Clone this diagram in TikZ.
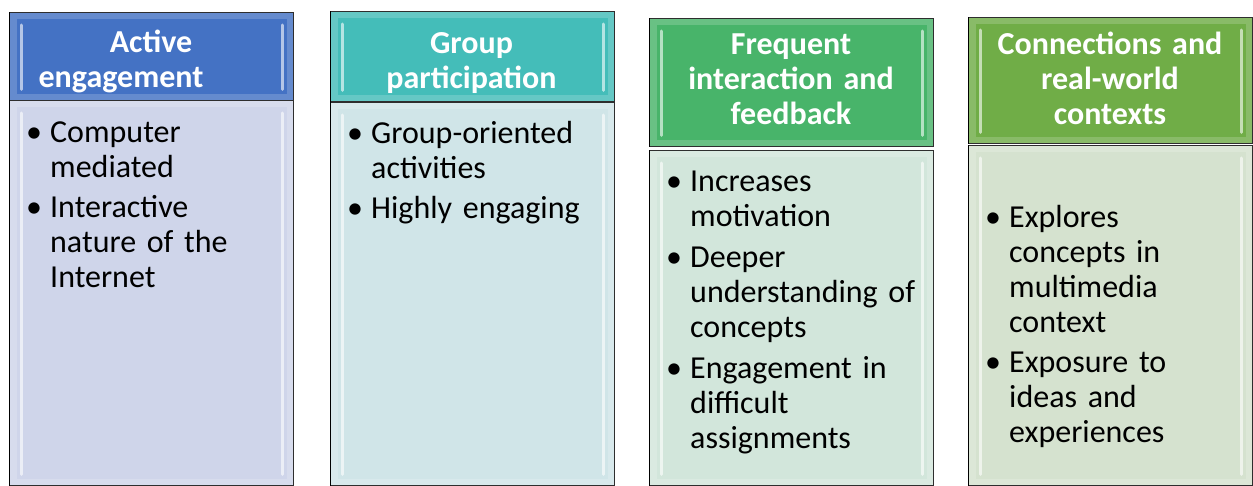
\documentclass[tikz,border=0pt]{standalone}
\usepackage{fontspec}
\setmainfont[WordSpace=0.8]{Carlito}
\usetikzlibrary{positioning}

\definecolor{hdrblue}{HTML}{4472C4}
\definecolor{hdrteal}{HTML}{44BDB9}
\definecolor{hdrgreen}{HTML}{48B46A}
\definecolor{hdrlime}{HTML}{70AD47}
\definecolor{bodyblue}{HTML}{CFD5EA}
\definecolor{bodyteal}{HTML}{D0E5E8}
\definecolor{bodygreen}{HTML}{D2E6DB}
\definecolor{bodylime}{HTML}{D5E2CF}

\newlength{\bgap}
\tikzset{
  panel/.style = {draw = black, line width = 1.4pt, inner sep = 0pt,
    minimum width = 284pt, anchor = north west},
  headtext/.style = {text = white, inner sep = 0pt, anchor = base,
    text width = 270pt, align = center,
    font = \fontsize{32}{35}\selectfont\bfseries},
  bodytext/.style = {inner sep = 0pt, anchor = base west, text width = 262pt,
    align = left, font = \fontsize{32}{35}\selectfont\setlength{\bgap}{#1}},
  bodytext/.default = 5pt,
  glint/.style = {white, opacity = 0.6, line width = 3pt, line cap = round},
  rim/.style = {white, opacity = 0.18, line width = 7pt}
}

% bullet item, the gap only goes in after the first one
\newcommand{\bitem}[1]{\noindent\hangindent=24pt\hangafter=1%
  \makebox[24pt][l]{\textbullet}#1\par\parskip=\bgap}
\newcommand{\bevel}[1]{%
  \draw[rim] ([shift={(4pt,-4pt)}]#1.north west) rectangle ([shift={(-4pt,4pt)}]#1.south east);
  \draw[glint] ([shift={(12pt,-13pt)}]#1.north west) -- ([shift={(12pt,12pt)}]#1.south west);
  \draw[glint] ([shift={(-12pt,-13pt)}]#1.north east) -- ([shift={(-12pt,12pt)}]#1.south east);}

\begin{document}
\begin{tikzpicture}[x = 1pt, y = -1pt]
  \useasboundingbox (0, 0) rectangle (1253, 486);
  \clip (0, 0) rectangle (1253, 486);

  % bodies
  \foreach \x/\y/\col/\name in {9/100/bodyblue/b1, 330/102/bodyteal/b2,
      649/150/bodygreen/b3, 968/145/bodylime/b4}{
    \node[panel, fill = \col, minimum height = 485pt - \y pt] (\name) at (\x, \y) {};
    \bevel{\name}}

  % headers
  \foreach \x/\y/\h/\col/\name in {9/12/88/hdrblue/h1, 330/11/90/hdrteal/h2,
      649/18/128/hdrgreen/h3, 968/17/126/hdrlime/h4}{
    \node[panel, fill = \col, minimum height = \h pt] (\name) at (\x, \y) {};
    \bevel{\name}}

  \node[headtext] (t1) at (151, 53) {Active\\engagement\hspace*{60pt}};
  \node[headtext] (t2) at (471.5, 54) {Group\hspace*{40pt}\\participation};
  \node[headtext] (t3) at (791, 55) {Frequent\\interaction and\\feedback};
  \node[headtext] (t4) at (1110, 55) {Connections and\\real-world\\contexts};

  \node[bodytext] (l1) at (26, 143) {%
    \bitem{Computer\newline mediated}
    \bitem{Interactive\newline nature of the\newline Internet}};
  \node[bodytext] (l2) at (347, 144) {%
    \bitem{Group-oriented\newline activities}
    \bitem{Highly engaging}};
  \node[bodytext = 6pt] (l3) at (666, 192) {%
    \bitem{Increases\newline motivation}
    \bitem{Deeper\newline understanding of\newline concepts}
    \bitem{Engagement in\newline difficult\newline assignments}};
  \node[bodytext] (l4) at (985, 228) {%
    \bitem{Explores\newline concepts in\newline multimedia\newline context}
    \bitem{Exposure to\newline ideas and\newline experiences}};
\end{tikzpicture}
\end{document}
